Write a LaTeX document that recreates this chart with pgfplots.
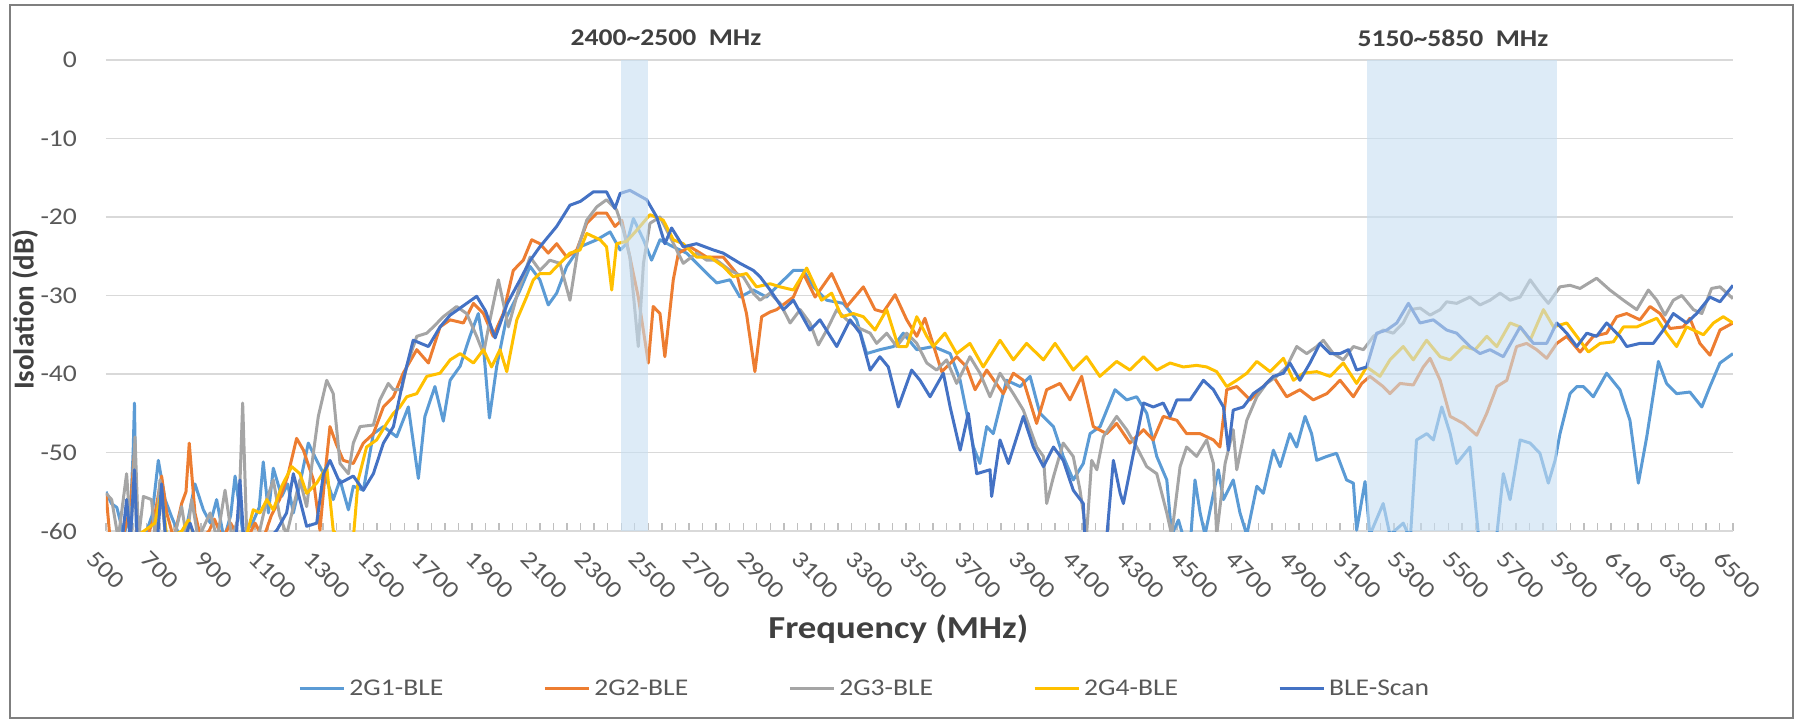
\documentclass[border=0pt]{standalone}
\usepackage{pgfplots}
\pgfplotsset{compat=1.18}
\usepackage{fontspec}
\setmainfont{Carlito}[FakeStretch=1.15]
\newfontfamily\ylabfont{Carlito}
\definecolor{cA}{HTML}{5B9BD5}
\definecolor{cB}{HTML}{ED7D31}
\definecolor{cC}{HTML}{A5A5A5}
\definecolor{cD}{HTML}{FFC000}
\definecolor{cE}{HTML}{4472C4}
\definecolor{gridc}{HTML}{D9D9D9}
\definecolor{tickc}{HTML}{BFBFBF}
\definecolor{txtc}{HTML}{595959}
\definecolor{titc}{HTML}{404040}
\definecolor{bandc}{RGB}{198,222,242}
\begin{document}
\begin{tikzpicture}
\useasboundingbox (-53pt,-96pt) rectangle (847.5pt,265.5pt);
\draw[color={rgb,255:red,127;green,127;blue,127}, line width=1.2pt] (-48pt,-93.5pt) rectangle (843.5pt,263pt);
\begin{axis}[
  at={(0,0)}, anchor=south west,
  scale only axis, width=813.5pt, height=235.5pt,
  xmin=500, xmax=6500, ymin=-60, ymax=0,
  axis x line*=bottom, axis y line*=left,
  x axis line style={draw=gridc, line width=0.8pt},
  y axis line style={draw=none},
  xtick={500,700,...,6500},
  minor xtick={500,550,...,6500},
  ytick={-60,-50,...,0},
  tick align=inside,
  major tick length=4pt, minor tick length=4pt,
  xtick style={draw=tickc, line width=0.7pt},
  minor x tick style={draw=tickc, line width=0.7pt},
  ytick style={draw=none},
  ymajorgrids, grid style={draw=gridc, line width=0.8pt},
  scaled x ticks=false,
  /pgf/number format/1000 sep={},
  /pgf/number format/assume math mode=true,
  tick label style={font=\fontsize{12}{14}\selectfont, text=txtc},
  yticklabel style={xshift=-11pt},
  xticklabel style={rotate=-45, anchor=west, inner sep=0pt, yshift=-14pt, xshift=3pt},
  xlabel={\bfseries Frequency (MHz)},
  xlabel style={at={(axis description cs:0.487,-0.208)}, anchor=center, font=\fontsize{16}{18}\selectfont, text=titc},
  ylabel={\ylabfont\bfseries Isolation (dB)},
  ylabel style={at={(axis description cs:-0.0498,0.47)}, anchor=center, rotate=0, font=\fontsize{14.5}{17}\selectfont, text=titc},
  legend columns=5,
  legend style={at={(axis description cs:0.467,-0.335)}, anchor=center, draw=none, fill=none,
    font=\fontsize{12}{14}\selectfont, text=txtc,
    /tikz/every even column/.append style={column sep=48pt}},
  legend image code/.code={\draw[#1] (0pt,0pt) -- (22pt,0pt);},
  every axis plot/.append style={line width=1.5pt, line join=round, mark=none},
]
% 2G1-BLE
\addplot[cA] coordinates {
(500,-55)(520,-56.5)(540,-57)(565,-60.5)(590,-58)(600,-50)(605,-43.7)(612,-60.5)(640,-61)(670,-58)(693,-51)(718,-56)(742,-58.2)(770,-60.5)(800,-59)(828,-54)(859,-57.3)(885,-59)(908,-56)(935,-61)(960,-58)(976,-53)(1006,-60.5)(1040,-59)(1065,-57)(1080,-51.2)(1099,-57.7)(1117,-52)(1148,-55.6)(1170,-54)(1191,-57.7)(1215,-54)(1246,-48.8)(1277,-51)(1314,-53.5)(1338,-56)(1363,-53.5)(1394,-57.3)(1412,-54.3)(1449,-54.8)(1486,-47.6)(1523,-46.7)(1572,-48)(1615,-44.2)(1652,-53.3)(1676,-45.4)(1713,-41.6)(1744,-46)(1769,-40.8)(1806,-39)(1842,-35.2)(1873,-32.3)(1892,-36.5)(1914,-45.6)(1941,-39)(1978,-32.7)(2027,-29.3)(2064,-26.3)(2100,-28)(2131,-31.2)(2162,-29.7)(2199,-26.3)(2248,-23.8)(2310,-22.9)(2359,-21.9)(2396,-24.2)(2420,-23.4)(2445,-20.2)(2482,-22.9)(2512,-25.5)(2543,-22.9)(2592,-23.8)(2641,-24.6)(2690,-26.3)(2752,-28.4)(2801,-28)(2838,-30.2)(2887,-29.3)(2936,-30.2)(2973,-28.9)(3035,-26.8)(3072,-26.8)(3109,-28.9)(3158,-30.6)(3219,-31)(3268,-33.1)(3305,-37.4)(3354,-36.9)(3404,-36.5)(3440,-34.8)(3490,-36.9)(3551,-36.5)(3613,-37.4)(3650,-40.8)(3699,-49.3)(3723,-51.4)(3748,-46.7)(3772,-47.6)(3821,-40.8)(3871,-41.6)(3908,-40.3)(3944,-45)(3994,-46.7)(4030,-50.5)(4067,-53.5)(4104,-51.4)(4129,-47.6)(4166,-46.7)(4221,-42)(4264,-43.3)(4301,-42.9)(4338,-45)(4375,-50.5)(4412,-53.5)(4430,-60.5)(4455,-58.6)(4475,-61)(4500,-61)(4516,-53.5)(4535,-57.7)(4553,-60.5)(4602,-52.2)(4621,-56)(4657,-53.5)(4682,-57.7)(4707,-60.5)(4744,-54.3)(4768,-55.2)(4805,-49.7)(4830,-51.8)(4866,-47.6)(4891,-49.3)(4922,-45.4)(4946,-47.6)(4965,-51)(5002,-50.5)(5038,-50.1)(5075,-53.5)(5100,-53.9)(5112,-59.9)(5143,-53.7)(5161,-60.5)(5210,-56.5)(5235,-60.5)(5284,-59)(5310,-61)(5333,-48.4)(5371,-47.6)(5395,-48.4)(5426,-44.2)(5457,-47.6)(5481,-51.4)(5530,-49.3)(5561,-60.5)(5629,-60.5)(5653,-52.7)(5678,-56)(5715,-48.4)(5752,-48.8)(5788,-50.1)(5819,-53.9)(5844,-51)(5862,-47.6)(5899,-42.5)(5924,-41.6)(5948,-41.6)(5985,-42.9)(6034,-39.9)(6083,-42)(6120,-45.9)(6151,-53.9)(6182,-48)(6225,-38.4)(6255,-41.2)(6292,-42.5)(6341,-42.3)(6385,-44.2)(6415,-41.6)(6452,-38.6)(6500,-37.4)
};
\addlegendentry{2G1-BLE}
% 2G2-BLE
\addplot[cB] coordinates {
(500,-55.2)(515,-61)(560,-61)(590,-57)(605,-50)(615,-61)(650,-61)(680,-58)(705,-53)(724,-57.7)(750,-61)(779,-56.5)(795,-55)(807,-48.8)(828,-57.7)(850,-61)(880,-60)(900,-58.5)(930,-61)(960,-59)(990,-61)(1020,-61)(1050,-59)(1080,-61)(1110,-58)(1140,-56)(1170,-53)(1203,-48.2)(1228,-49.7)(1265,-53.5)(1289,-59.9)(1310,-52)(1326,-46.7)(1350,-49)(1375,-51)(1412,-51.4)(1449,-48.8)(1486,-47.6)(1523,-44.2)(1560,-42.9)(1596,-39.9)(1646,-36.9)(1689,-38.6)(1732,-34)(1769,-33.1)(1818,-33.5)(1855,-31)(1892,-32.3)(1928,-35.2)(1965,-32.3)(2002,-26.8)(2039,-25.5)(2070,-22.9)(2100,-23.4)(2131,-24.6)(2162,-23.4)(2199,-25.1)(2236,-24.2)(2273,-20.8)(2310,-19.5)(2346,-19.5)(2377,-21.2)(2402,-20.4)(2432,-25.1)(2463,-30.2)(2500,-38.6)(2518,-31.4)(2543,-32.3)(2561,-37.8)(2592,-28)(2611,-24.6)(2654,-23.8)(2715,-25.1)(2776,-25.1)(2826,-27.2)(2862,-32.3)(2893,-39.7)(2918,-32.7)(2949,-32.1)(2973,-31.8)(3035,-30.2)(3072,-27.2)(3115,-30.2)(3176,-27.2)(3232,-31.4)(3293,-28.9)(3336,-31.8)(3367,-32.1)(3410,-29.9)(3453,-33.1)(3490,-35.2)(3520,-32.9)(3582,-39.7)(3637,-37.8)(3674,-39.1)(3705,-42)(3748,-39.5)(3809,-42.5)(3846,-39.9)(3883,-40.8)(3932,-46.3)(3969,-42)(4018,-41.2)(4055,-43.3)(4098,-40.3)(4141,-46.7)(4190,-47.6)(4227,-46.3)(4276,-48.8)(4326,-47.1)(4362,-48.4)(4399,-45.4)(4449,-45.9)(4485,-47.6)(4535,-47.6)(4584,-48.4)(4608,-49.3)(4633,-42)(4670,-41.6)(4719,-43.3)(4756,-42)(4805,-40.3)(4854,-42.9)(4903,-42)(4952,-43.3)(5002,-42.5)(5051,-40.8)(5100,-42.9)(5131,-41.2)(5161,-40.3)(5210,-41.6)(5235,-42.5)(5272,-41.2)(5321,-41.4)(5358,-39.1)(5383,-38)(5420,-40.8)(5457,-45.4)(5506,-46.3)(5555,-47.8)(5592,-45)(5629,-41.6)(5666,-40.8)(5702,-36.5)(5739,-36.1)(5776,-36.9)(5813,-38)(5850,-36.1)(5887,-35.2)(5936,-37.2)(5985,-35.2)(6034,-34.8)(6071,-32.7)(6108,-32.3)(6157,-33.1)(6194,-31.4)(6231,-32.3)(6268,-34.2)(6317,-34)(6341,-32.9)(6378,-36.1)(6415,-37.6)(6452,-34.4)(6500,-33.5)
};
\addlegendentry{2G2-BLE}
% 2G3-BLE
\addplot[cC] coordinates {
(500,-55.2)(521,-56)(545,-61)(576,-52.7)(592,-61)(607,-48)(620,-61)(638,-55.6)(668,-56)(682,-61)(699,-53.5)(720,-61)(750,-61)(779,-56.9)(798,-61)(816,-56)(840,-61)(884,-57.7)(910,-61)(939,-54.8)(965,-61)(990,-58)(1004,-43.7)(1019,-60.5)(1060,-61)(1093,-56)(1117,-53.5)(1140,-58)(1166,-60.5)(1215,-53.5)(1240,-56.9)(1265,-50)(1283,-45.4)(1314,-40.8)(1338,-42.5)(1363,-51.4)(1394,-52.7)(1412,-48.8)(1437,-46.7)(1486,-46.5)(1510,-43.3)(1541,-41.2)(1560,-42)(1590,-42)(1609,-39)(1646,-35.2)(1683,-34.8)(1707,-34)(1744,-32.7)(1793,-31.4)(1830,-32.3)(1867,-35.2)(1892,-37.4)(1916,-33.1)(1947,-28)(1984,-34)(2021,-29.3)(2064,-25.1)(2100,-26.8)(2137,-25.5)(2174,-25.9)(2211,-30.6)(2242,-23.8)(2273,-20.4)(2310,-18.7)(2346,-17.8)(2383,-19.1)(2408,-21.7)(2432,-25.1)(2463,-36.5)(2482,-25.9)(2506,-20.8)(2543,-20)(2580,-22.5)(2629,-25.9)(2678,-24.6)(2715,-25.5)(2752,-25.5)(2801,-26.8)(2850,-27.6)(2887,-29.7)(2912,-30.6)(2949,-29.7)(2986,-31)(3023,-33.5)(3060,-31.8)(3096,-33.5)(3127,-36.3)(3158,-34.4)(3195,-31.8)(3232,-33.1)(3268,-34)(3318,-34.8)(3342,-36.1)(3379,-34.8)(3416,-36.5)(3453,-34.8)(3490,-36.1)(3527,-38.6)(3563,-39.5)(3600,-38.2)(3637,-41.2)(3686,-37.8)(3723,-39.9)(3760,-42.9)(3797,-39.9)(3846,-42.5)(3883,-44.6)(3932,-49.3)(3957,-50.5)(3969,-56.5)(3994,-53.1)(4030,-48.8)(4067,-50.5)(4092,-54.8)(4116,-60.5)(4135,-51)(4154,-52.2)(4178,-48)(4227,-45.4)(4264,-47.1)(4301,-49.3)(4338,-51.8)(4375,-52.7)(4412,-57.7)(4430,-60.5)(4461,-51.8)(4485,-49.3)(4522,-50.5)(4559,-48.4)(4584,-51.4)(4596,-60.5)(4627,-51.4)(4657,-47.1)(4670,-52.2)(4707,-45.9)(4744,-42.9)(4780,-41.2)(4817,-40.3)(4854,-39.1)(4891,-36.5)(4928,-37.4)(4965,-36.5)(4989,-35.7)(5026,-37.4)(5063,-38.2)(5100,-36.5)(5137,-36.9)(5174,-35.2)(5210,-34.4)(5247,-34.8)(5284,-33.5)(5309,-31.8)(5346,-31.6)(5383,-32.5)(5420,-31.8)(5444,-30.8)(5481,-31)(5530,-30.2)(5567,-31.2)(5604,-30.6)(5641,-29.7)(5678,-30.6)(5715,-30.2)(5752,-28)(5788,-29.7)(5819,-31)(5862,-28.9)(5899,-28.7)(5936,-29.1)(5997,-27.8)(6046,-29.3)(6096,-30.6)(6145,-31.8)(6188,-29.3)(6219,-30.6)(6249,-32.5)(6280,-30.6)(6311,-30)(6354,-31.8)(6385,-32.3)(6421,-29.1)(6452,-28.9)(6500,-30.4)
};
\addlegendentry{2G3-BLE}
% 2G4-BLE
\addplot[cD] coordinates {
(500,-61)(600,-61)(680,-59)(705,-55)(725,-61)(780,-60)(804,-58.6)(830,-61)(900,-61)(1000,-61)(1019,-60.5)(1043,-57.3)(1068,-57.7)(1093,-56)(1117,-57.3)(1148,-54.3)(1185,-51.8)(1215,-52.7)(1240,-55.2)(1277,-53.9)(1314,-51.8)(1338,-59.9)(1360,-61)(1412,-61)(1430,-53.5)(1461,-49.3)(1498,-48.4)(1535,-46.3)(1560,-45)(1584,-44.2)(1609,-42.9)(1646,-42.5)(1683,-40.3)(1732,-39.9)(1769,-38.2)(1806,-37.4)(1855,-38.6)(1892,-36.9)(1922,-39.1)(1953,-36.9)(1978,-39.7)(2015,-33.1)(2051,-30.2)(2076,-28)(2100,-27.2)(2137,-27.2)(2174,-25.9)(2211,-24.6)(2248,-24.2)(2273,-22.1)(2322,-22.9)(2346,-23.8)(2365,-29.3)(2383,-23.4)(2420,-23.1)(2457,-21.7)(2506,-19.7)(2555,-20.4)(2592,-22.9)(2629,-23.4)(2678,-25.1)(2727,-25.1)(2776,-26.3)(2813,-27.6)(2862,-27.2)(2899,-28.9)(2949,-28.5)(2986,-28.9)(3035,-29.3)(3084,-26.5)(3139,-30.6)(3176,-29.7)(3213,-32.7)(3256,-32.3)(3293,-32.7)(3336,-34.4)(3379,-31.8)(3422,-36.5)(3453,-36.5)(3490,-32.7)(3527,-35.2)(3551,-36.5)(3594,-34.8)(3637,-37.4)(3686,-36.1)(3735,-39.1)(3797,-35.7)(3846,-38.2)(3895,-36.1)(3957,-38.2)(4000,-36.1)(4067,-39.5)(4116,-37.8)(4165,-40.3)(4227,-38.4)(4276,-39.5)(4326,-37.8)(4375,-39.5)(4424,-38.6)(4473,-39.1)(4522,-38.9)(4559,-39.1)(4596,-39.7)(4633,-41.6)(4670,-40.8)(4707,-39.9)(4744,-38.4)(4793,-39.7)(4842,-38)(4879,-40.8)(4916,-39.9)(4965,-39.7)(5014,-40.3)(5063,-38.6)(5112,-41.2)(5149,-39.1)(5198,-40.3)(5235,-38.2)(5284,-36.5)(5321,-38.2)(5370,-35.7)(5420,-37.8)(5457,-38.2)(5506,-36.5)(5549,-36.9)(5592,-35.2)(5629,-36.5)(5678,-33.5)(5715,-34)(5752,-35.7)(5801,-31.8)(5838,-34)(5887,-33.5)(5924,-35.2)(5967,-37.2)(6010,-36.1)(6059,-35.9)(6096,-34)(6145,-34)(6219,-32.9)(6255,-34.8)(6292,-36.5)(6329,-34)(6391,-35)(6428,-33.5)(6464,-32.7)(6500,-33.5)
};
\addlegendentry{2G4-BLE}
% BLE-Scan
\addplot[cE] coordinates {
(500,-61)(560,-61)(576,-56)(590,-61)(605,-52.2)(615,-61)(690,-61)(705,-54)(720,-61)(790,-61)(810,-59)(830,-61)(980,-61)(994,-53.5)(1008,-61)(1100,-61)(1130,-59.9)(1166,-57.7)(1191,-52.7)(1215,-56)(1240,-59.4)(1277,-59)(1302,-52.7)(1326,-51)(1363,-53.9)(1412,-53)(1449,-54.8)(1486,-52.7)(1523,-48.8)(1560,-46.7)(1596,-40.8)(1633,-35.7)(1689,-36.5)(1732,-34)(1769,-32.5)(1810,-31.5)(1867,-30.1)(1900,-32)(1935,-35.4)(1980,-31)(2027,-28)(2065,-25.5)(2100,-23.8)(2162,-21.2)(2211,-18.5)(2250,-18)(2297,-16.8)(2346,-16.8)(2377,-18.9)(2396,-17)(2432,-16.6)(2494,-17.8)(2531,-20)(2561,-23.4)(2586,-21.4)(2629,-23.8)(2678,-23.4)(2740,-24.2)(2776,-24.6)(2838,-25.9)(2887,-26.8)(2912,-27.6)(2949,-29.3)(2998,-31.8)(3035,-30.6)(3096,-34.4)(3133,-33.1)(3195,-36.5)(3244,-33.1)(3281,-34.8)(3318,-39.5)(3354,-37.8)(3385,-39.1)(3422,-44.2)(3471,-39.5)(3502,-40.8)(3539,-42.9)(3588,-39.9)(3613,-44.2)(3650,-49.7)(3680,-45)(3711,-52.7)(3760,-52.2)(3766,-55.6)(3797,-48.4)(3828,-51.4)(3883,-45.4)(3920,-49.3)(3957,-51.8)(3994,-49.3)(4030,-51)(4067,-54.8)(4104,-56.5)(4110,-61)(4190,-61)(4215,-51)(4240,-55.2)(4252,-56.5)(4289,-50.1)(4326,-43.7)(4362,-44.2)(4399,-43.7)(4424,-45.4)(4449,-43.3)(4498,-43.3)(4547,-40.8)(4584,-42)(4621,-44.2)(4639,-49.7)(4657,-44.6)(4694,-44.2)(4731,-42.5)(4768,-41.6)(4805,-40.3)(4842,-39.9)(4866,-38.6)(4903,-40.8)(4940,-38.6)(4977,-36.1)(5014,-37.4)(5051,-37.4)(5082,-36.9)(5112,-39.5)(5149,-39.1)(5186,-34.8)(5223,-34.4)(5260,-33.5)(5303,-31)(5346,-33.5)(5395,-33.1)(5444,-34.4)(5481,-34.8)(5530,-36.5)(5567,-37.4)(5604,-36.9)(5653,-37.8)(5715,-34)(5764,-36.1)(5813,-36.1)(5850,-33.5)(5887,-34.8)(5924,-36.5)(5961,-34.8)(5997,-35.2)(6034,-33.5)(6083,-35.2)(6108,-36.5)(6157,-36.1)(6206,-36.1)(6243,-34.4)(6280,-32.3)(6329,-33.5)(6366,-32.3)(6415,-30.2)(6452,-30.8)(6500,-28.7)
};
\addlegendentry{BLE-Scan}
\fill[bandc, fill opacity=0.6] (axis cs:2400,-60) rectangle (axis cs:2500,0);
\fill[bandc, fill opacity=0.6] (axis cs:5150,-60) rectangle (axis cs:5850,0);
\end{axis}
\node[font=\fontsize{12}{14}\selectfont\bfseries, text=titc] at (280pt,246.5pt) {2400\textasciitilde 2500\ \ MHz};
\node[font=\fontsize{12}{14}\selectfont\bfseries, text=titc] at (673.5pt,246.5pt) {5150\textasciitilde 5850\ \ MHz};
\end{tikzpicture}
\end{document}
